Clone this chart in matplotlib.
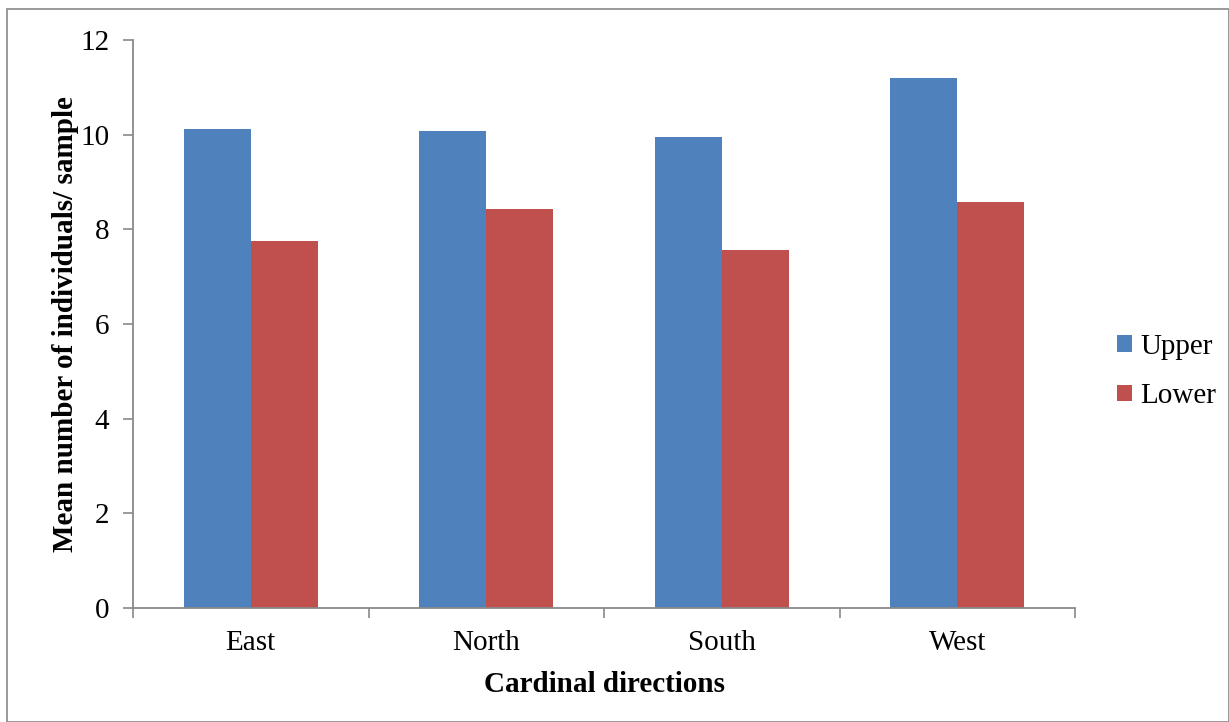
import matplotlib.pyplot as plt
import numpy as np
from matplotlib.patches import Rectangle

# Data
# ---------------------------------------------------------------
directions = ['East', 'North', 'South', 'West']
upper = [10.13, 10.07, 9.96, 11.19]
lower = [7.76, 8.44, 7.57, 8.58]
y_ticks = [0, 2, 4, 6, 8, 10, 12]

col_upper = '#4f81bd'
col_lower = '#c0504d'
grey = '#898989'

plt.rcParams['font.family'] = ['Liberation Serif', 'DejaVu Serif']

fig = plt.figure(figsize=(12.29, 7.22), dpi=100)
ax = fig.add_axes([133 / 1229, 1 - 608 / 722, (1075 - 133) / 1229, (608 - 40) / 722])

# grouped bars
x = np.arange(len(directions))
w = 0.285
b1 = ax.bar(x - w / 2, upper, w, color=col_upper, label='Upper')
b2 = ax.bar(x + w / 2, lower, w, color=col_lower, label='Lower')

ax.set_xlim(-0.5, len(directions) - 0.5)
ax.set_ylim(0, 12)
ax.set_yticks(y_ticks)
ax.set_yticklabels([str(v) for v in y_ticks], fontsize=21)

# category labels between boundary ticks
ax.set_xticks(np.arange(len(directions) + 1) - 0.5)
ax.set_xticklabels([])
ax.set_xticks(x, minor=True)
ax.set_xticklabels(directions, minor=True, fontsize=21)
ax.tick_params(axis='x', which='minor', length=0, pad=16)
ax.tick_params(axis='x', which='major', length=7, width=1.2, color=grey, direction='out')
ax.tick_params(axis='y', length=7, width=1.2, color=grey, direction='out', pad=10)

for s in ['top', 'right']:
    ax.spines[s].set_visible(False)
for s in ['left', 'bottom']:
    ax.spines[s].set_color(grey)
    ax.spines[s].set_linewidth(1.3)

ax.set_xlabel('Cardinal directions', fontsize=21, fontweight='bold', labelpad=11)
ax.set_ylabel('Mean number of individuals/ sample', fontsize=21, fontweight='bold', labelpad=1)

leg = ax.legend(loc='upper left', bbox_to_anchor=((1117 - 133) / 942, (608 - 334) / 568), frameon=False,
                fontsize=21, handlelength=0.5, handleheight=0.5, handletextpad=0.3,
                labelspacing=0.8, borderaxespad=0, borderpad=0)

# outer chart border
fig.patches.append(Rectangle((7 / 1229, 0), 1 - 7 / 1229, 1 - 9 / 722, transform=fig.transFigure,
                             fill=False, edgecolor=grey, linewidth=1.2))

plt.savefig('out.png', dpi=100)
